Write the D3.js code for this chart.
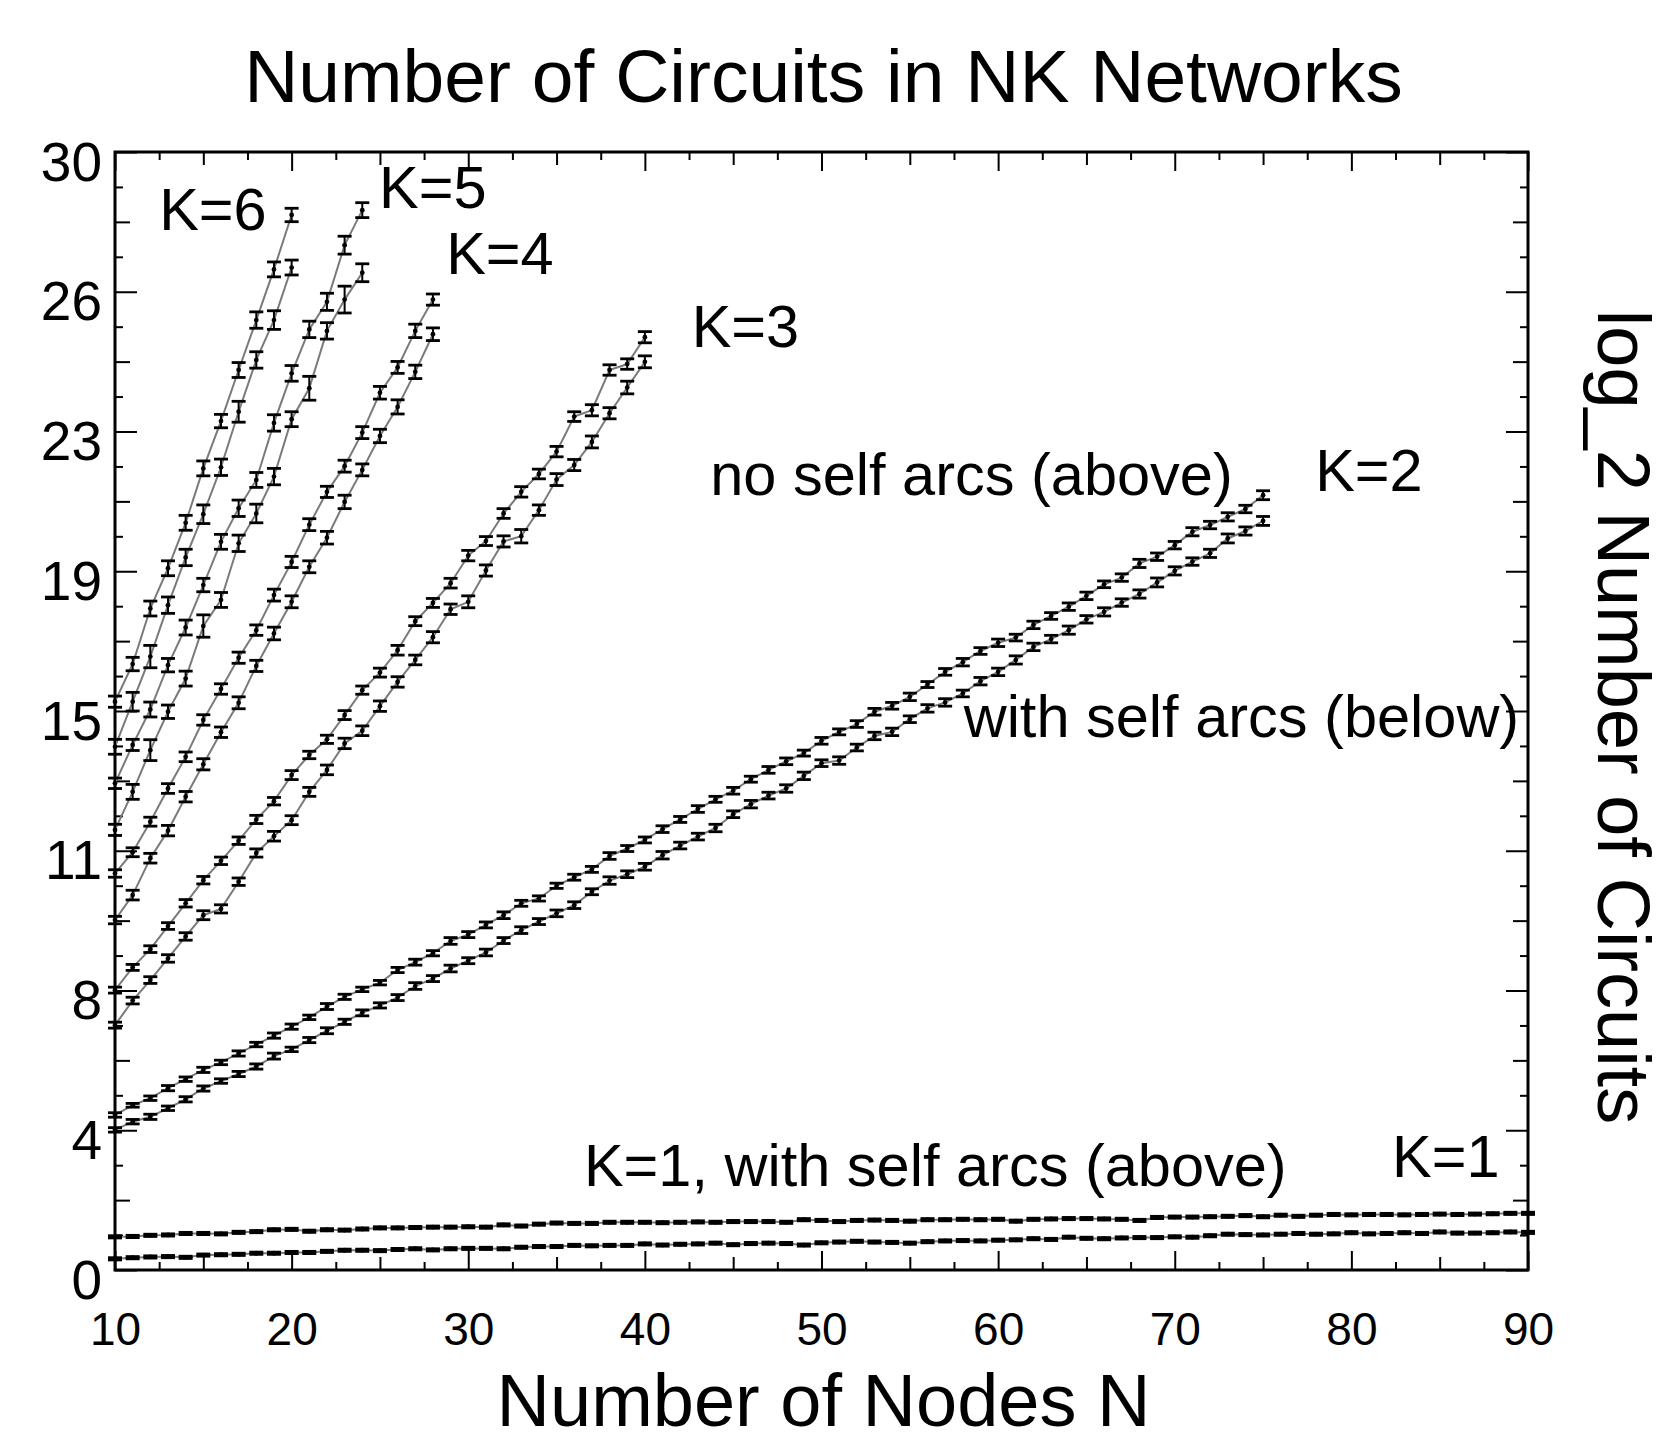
<!DOCTYPE html>
<html>
<head>
<meta charset="utf-8">
<title>Number of Circuits in NK Networks</title>
<script src="https://cdn.jsdelivr.net/npm/d3@7"></script>
<style>
  body { margin: 0; background: #fff; }
  svg { display: block; font-family: "Liberation Sans", Arial, Helvetica, sans-serif; }
</style>
</head>
<body>
<script>
const width = 1667;
const height = 1443;

// ---- data (log2 of number of circuits), index i -> N = first N + i ----
// K=1, N = 10..90
const k1WithSelf = [
  0.89, 0.90, 0.93, 0.94, 0.98, 0.98, 0.97, 1.01, 1.03, 1.08,
  1.09, 1.04, 1.08, 1.07, 1.10, 1.13, 1.13, 1.14, 1.15, 1.15,
  1.16, 1.15, 1.21, 1.18, 1.23, 1.26, 1.25, 1.25, 1.28, 1.28,
  1.28, 1.27, 1.28, 1.29, 1.28, 1.30, 1.30, 1.30, 1.28, 1.35,
  1.33, 1.30, 1.33, 1.34, 1.33, 1.31, 1.35, 1.35, 1.36, 1.35,
  1.36, 1.31, 1.36, 1.37, 1.38, 1.38, 1.37, 1.36, 1.33, 1.41,
  1.42, 1.42, 1.43, 1.44, 1.46, 1.43, 1.47, 1.44, 1.47, 1.49,
  1.48, 1.49, 1.49, 1.48, 1.49, 1.50, 1.49, 1.50, 1.51, 1.52,
  1.52
];
const k1NoSelf = [
  0.30, 0.33, 0.35, 0.36, 0.34, 0.40, 0.41, 0.42, 0.45, 0.45,
  0.47, 0.47, 0.50, 0.53, 0.53, 0.52, 0.55, 0.57, 0.54, 0.57,
  0.58, 0.58, 0.57, 0.61, 0.63, 0.63, 0.66, 0.65, 0.66, 0.66,
  0.70, 0.67, 0.69, 0.70, 0.72, 0.68, 0.71, 0.72, 0.71, 0.67,
  0.73, 0.75, 0.77, 0.75, 0.74, 0.72, 0.76, 0.78, 0.79, 0.78,
  0.80, 0.81, 0.84, 0.82, 0.88, 0.85, 0.84, 0.86, 0.87, 0.87,
  0.89, 0.88, 0.92, 0.96, 0.95, 0.94, 0.96, 0.98, 0.96, 0.97,
  1.00, 0.97, 0.98, 1.00, 0.98, 1.02, 0.99, 0.99, 1.00, 1.02,
  1.01
];
const k1Err = 0.03;

// K=2, N = 10..75
const k2NoSelf = [
  4.16, 4.42, 4.61, 4.88, 5.12, 5.37, 5.57, 5.81, 6.05, 6.29,
  6.53, 6.78, 7.07, 7.33, 7.53, 7.71, 8.05, 8.26, 8.50, 8.83,
  9.00, 9.26, 9.52, 9.84, 9.97, 10.31, 10.54, 10.75, 11.11, 11.31,
  11.54, 11.83, 12.09, 12.37, 12.63, 12.86, 13.17, 13.42, 13.65, 13.87,
  14.20, 14.44, 14.65, 14.98, 15.14, 15.38, 15.71, 16.05, 16.31, 16.61,
  16.83, 16.97, 17.31, 17.55, 17.80, 18.09, 18.40, 18.58, 18.96, 19.14,
  19.45, 19.81, 19.99, 20.21, 20.42, 20.79
];
const k2NoSelfErr = [
  0.06, 0.05, 0.06, 0.07, 0.06, 0.07, 0.06, 0.07, 0.06, 0.07,
  0.07, 0.06, 0.08, 0.07, 0.06, 0.06, 0.07, 0.08, 0.07, 0.09,
  0.08, 0.08, 0.09, 0.08, 0.07, 0.07, 0.08, 0.08, 0.09, 0.08,
  0.08, 0.09, 0.08, 0.09, 0.08, 0.09, 0.08, 0.09, 0.09, 0.08,
  0.09, 0.08, 0.09, 0.09, 0.09, 0.10, 0.08, 0.09, 0.10, 0.09,
  0.10, 0.09, 0.10, 0.09, 0.10, 0.10, 0.09, 0.10, 0.11, 0.10,
  0.10, 0.11, 0.10, 0.11, 0.10, 0.12
];
const k2WithSelf = [
  3.76, 3.98, 4.11, 4.34, 4.58, 4.87, 5.07, 5.26, 5.46, 5.74,
  5.92, 6.17, 6.42, 6.66, 6.90, 7.10, 7.31, 7.62, 7.82, 8.09,
  8.30, 8.52, 8.84, 9.12, 9.35, 9.57, 9.79, 10.15, 10.45, 10.62,
  10.82, 11.13, 11.39, 11.63, 11.86, 12.23, 12.50, 12.73, 12.92, 13.26,
  13.60, 13.67, 14.02, 14.33, 14.44, 14.78, 15.07, 15.23, 15.47, 15.80,
  16.05, 16.37, 16.72, 16.93, 17.17, 17.46, 17.66, 17.91, 18.14, 18.45,
  18.76, 19.01, 19.23, 19.63, 19.83, 20.10
];
const k2WithSelfErr = [
  0.06, 0.06, 0.07, 0.06, 0.07, 0.07, 0.06, 0.07, 0.07, 0.08,
  0.06, 0.07, 0.08, 0.07, 0.08, 0.07, 0.08, 0.09, 0.08, 0.09,
  0.08, 0.09, 0.08, 0.09, 0.08, 0.09, 0.09, 0.08, 0.10, 0.09,
  0.09, 0.10, 0.09, 0.09, 0.10, 0.09, 0.10, 0.09, 0.10, 0.10,
  0.09, 0.10, 0.09, 0.10, 0.10, 0.09, 0.10, 0.10, 0.09, 0.10,
  0.10, 0.11, 0.10, 0.10, 0.11, 0.10, 0.11, 0.10, 0.11, 0.12,
  0.11, 0.10, 0.11, 0.12, 0.11, 0.12
];

// K=3, N = 10..40
const k3NoSelf = [
  7.51, 8.12, 8.61, 9.23, 9.84, 10.46, 10.98, 11.52, 12.09, 12.58,
  13.28, 13.82, 14.24, 14.89, 15.56, 16.03, 16.63, 17.41, 17.90, 18.43,
  19.17, 19.56, 20.30, 20.88, 21.36, 21.96, 22.90, 23.07, 24.15, 24.31,
  25.03
];
const k3NoSelfErr = [
  0.08, 0.08, 0.09, 0.09, 0.10, 0.10, 0.10, 0.10, 0.11, 0.10,
  0.12, 0.10, 0.11, 0.12, 0.11, 0.12, 0.13, 0.12, 0.12, 0.13,
  0.14, 0.12, 0.13, 0.14, 0.13, 0.14, 0.13, 0.15, 0.14, 0.14,
  0.15
];
const k3WithSelf = [
  6.57, 7.23, 7.78, 8.36, 8.95, 9.52, 9.69, 10.42, 11.19, 11.64,
  12.07, 12.83, 13.42, 14.13, 14.47, 15.13, 15.78, 16.37, 16.98, 17.73,
  17.93, 18.77, 19.55, 19.69, 20.39, 21.21, 21.60, 22.22, 22.99, 23.68,
  24.37
];
const k3WithSelfErr = [
  0.08, 0.09, 0.09, 0.10, 0.10, 0.12, 0.11, 0.10, 0.11, 0.13,
  0.12, 0.12, 0.13, 0.14, 0.13, 0.14, 0.14, 0.13, 0.15, 0.14,
  0.16, 0.15, 0.15, 0.18, 0.14, 0.16, 0.15, 0.16, 0.15, 0.17,
  0.16
];

// K=4, N = 10..28
const k4NoSelf = [10.64, 11.21, 12.03, 12.92, 13.77, 14.76, 15.59, 16.43, 17.17, 18.11,
  19.00, 20.00, 20.88, 21.57, 22.47, 23.54, 24.22, 25.20, 26.04];
const k4NoSelfErr = [0.10, 0.12, 0.12, 0.13, 0.13, 0.14, 0.14, 0.15, 0.14, 0.16,
  0.15, 0.16, 0.15, 0.16, 0.16, 0.17, 0.16, 0.18, 0.15];
const k4WithSelf = [9.39, 10.06, 11.05, 11.79, 12.70, 13.57, 14.43, 15.22, 16.21, 17.08,
  17.93, 18.87, 19.65, 20.61, 21.47, 22.38, 23.16, 24.10, 25.11];
const k4WithSelfErr = [0.10, 0.13, 0.13, 0.14, 0.14, 0.15, 0.14, 0.16, 0.15, 0.17,
  0.16, 0.16, 0.17, 0.18, 0.16, 0.18, 0.19, 0.18, 0.17];

// K=5, N = 10..24
const k5NoSelf = [13.06, 14.09, 15.04, 16.23, 17.24, 18.38, 19.54, 20.44, 21.20, 22.73,
  24.06, 25.24, 25.98, 27.50, 28.44];
const k5NoSelfErr = [0.14, 0.15, 0.20, 0.18, 0.20, 0.18, 0.20, 0.22, 0.20, 0.22,
  0.21, 0.22, 0.23, 0.24, 0.20];
const k5WithSelf = [11.81, 12.83, 13.95, 14.98, 15.87, 17.28, 17.98, 19.50, 20.30, 21.29,
  22.83, 23.66, 25.20, 26.04, 26.76];
const k5WithSelfErr = [0.15, 0.20, 0.28, 0.18, 0.20, 0.30, 0.20, 0.22, 0.25, 0.22,
  0.20, 0.32, 0.22, 0.36, 0.24];

// K=6, N = 10..20
const k6NoSelf = [15.25, 16.26, 17.75, 18.83, 20.05, 21.51, 22.78, 24.15, 25.49, 26.85, 28.31];
const k6NoSelfErr = [0.15, 0.18, 0.20, 0.20, 0.20, 0.20, 0.18, 0.20, 0.22, 0.20, 0.18];
const k6WithSelf = [14.04, 15.25, 16.46, 17.84, 19.12, 20.28, 21.54, 23.03, 24.42, 25.49, 26.90];
const k6WithSelfErr = [0.20, 0.25, 0.30, 0.22, 0.22, 0.25, 0.22, 0.28, 0.22, 0.25, 0.20];

// axis ticks and labels
const xTicks = [10, 20, 30, 40, 50, 60, 70, 80, 90];
const yTicks = [0, 3.75, 7.5, 11.25, 15, 18.75, 22.5, 26.25, 30];
const yTickLabels = ["0", "4", "8", "11", "15", "19", "23", "26", "30"];

// text on the plot, placed in data units (N, log2 count)
const notes = [
  {text: "K=6", n: 12.5, v: 27.9},
  {text: "K=5", n: 24.95, v: 28.5},
  {text: "K=4", n: 28.75, v: 26.73},
  {text: "K=3", n: 42.65, v: 24.77},
  {text: "no self arcs (above)", n: 43.7, v: 20.8},
  {text: "K=2", n: 77.95, v: 20.9},
  {text: "with self arcs (below)", n: 58.05, v: 14.3},
  {text: "K=1, with self arcs (above)", n: 36.55, v: 2.25},
  {text: "K=1", n: 82.3, v: 2.5}
];

// table the drawing uses
const series = [
  {n0: 10, v: k1WithSelf, e: k1WithSelf.map(() => k1Err)},
  {n0: 10, v: k1NoSelf, e: k1NoSelf.map(() => k1Err)},
  {n0: 10, v: k2NoSelf, e: k2NoSelfErr},
  {n0: 10, v: k2WithSelf, e: k2WithSelfErr},
  {n0: 10, v: k3NoSelf, e: k3NoSelfErr},
  {n0: 10, v: k3WithSelf, e: k3WithSelfErr},
  {n0: 10, v: k4NoSelf, e: k4NoSelfErr},
  {n0: 10, v: k4WithSelf, e: k4WithSelfErr},
  {n0: 10, v: k5NoSelf, e: k5NoSelfErr},
  {n0: 10, v: k5WithSelf, e: k5WithSelfErr},
  {n0: 10, v: k6NoSelf, e: k6NoSelfErr},
  {n0: 10, v: k6WithSelf, e: k6WithSelfErr}
].map(s => s.v.map((v, i) => ({n: s.n0 + i, v: v, e: s.e[i]})));

// ---- layout ----
const plotLeft = 115, plotRight = 1528, plotTop = 152, plotBottom = 1270;

let x = d3.scaleLinear().domain([10, 90]).range([plotLeft, plotRight]);
let y = d3.scaleLinear().domain([0, 30]).range([plotBottom, plotTop]);

let svg = d3.select("body").append("svg")
    .attr("width", width)
    .attr("height", height);

svg.append("rect")
    .attr("width", width)
    .attr("height", height)
    .attr("fill", "#fff");

// inward ticks on all four sides, three lengths
function ticks(axisFn, values, size, transform) {
    svg.append("g")
        .attr("transform", transform)
        .call(axisFn.tickValues(values).tickSizeInner(-size).tickSizeOuter(0).tickFormat(""))
        .call(g => g.select(".domain").remove())
        .selectAll("line")
        .attr("stroke", "#000")
        .attr("stroke-width", 2);
}

let xMid = d3.range(15, 90, 10);
let xMinor = d3.range(12.5, 90, 5);
let yMid = d3.range(1.875, 30, 3.75);
let yMinor = d3.range(0.9375, 30, 1.875);

[[xTicks, 19], [xMid, 13], [xMinor, 8]].forEach(([vals, len]) => {
    ticks(d3.axisBottom(x), vals, len, `translate(0,${plotBottom})`);
    ticks(d3.axisTop(x), vals, len, `translate(0,${plotTop})`);
});
[[yTicks, 22], [yMid, 15], [yMinor, 8]].forEach(([vals, len]) => {
    ticks(d3.axisLeft(y), vals, len, `translate(${plotLeft},0)`);
    ticks(d3.axisRight(y), vals, len, `translate(${plotRight},0)`);
});

// frame
svg.append("rect")
    .attr("x", plotLeft)
    .attr("y", plotTop)
    .attr("width", plotRight - plotLeft)
    .attr("height", plotBottom - plotTop)
    .attr("fill", "none")
    .attr("stroke", "#000")
    .attr("stroke-width", 3);

// tick labels
svg.append("g")
    .attr("transform", `translate(0,${plotBottom})`)
    .call(d3.axisBottom(x).tickValues(xTicks).tickSize(0).tickFormat(d3.format("d")))
    .call(g => g.select(".domain").remove())
    .selectAll("text")
    .attr("y", 75)
    .attr("dy", 0)
    .attr("fill", "#000")
    .attr("font-family", null)
    .attr("font-size", 46);

svg.append("g")
    .attr("transform", `translate(${plotLeft},0)`)
    .call(d3.axisLeft(y).tickValues(yTicks).tickSize(0).tickFormat((d, i) => yTickLabels[i]))
    .call(g => g.select(".domain").remove())
    .selectAll("text")
    .attr("x", -13)
    .attr("y", 28)
    .attr("dy", 0)
    .attr("fill", "#000")
    .attr("font-family", null)
    .attr("font-size", 55);

// connecting lines
let line = d3.line()
    .x(d => x(d.n))
    .y(d => y(d.v));

svg.append("g")
    .selectAll("path")
    .data(series)
    .join("path")
    .attr("d", line)
    .attr("fill", "none")
    .attr("stroke", "#7a7a7a")
    .attr("stroke-width", 2);

// points with error bars
let capW = 7;
let pts = svg.append("g")
    .selectAll("g")
    .data(series.flat())
    .join("g")
    .attr("stroke", "#000");

pts.append("line")
    .attr("x1", d => x(d.n)).attr("x2", d => x(d.n))
    .attr("y1", d => y(d.v - d.e)).attr("y2", d => y(d.v + d.e))
    .attr("stroke-width", 2);
pts.append("line")
    .attr("x1", d => x(d.n) - capW).attr("x2", d => x(d.n) + capW)
    .attr("y1", d => y(d.v + d.e)).attr("y2", d => y(d.v + d.e))
    .attr("stroke-width", 2.8);
pts.append("line")
    .attr("x1", d => x(d.n) - capW).attr("x2", d => x(d.n) + capW)
    .attr("y1", d => y(d.v - d.e)).attr("y2", d => y(d.v - d.e))
    .attr("stroke-width", 2.8);
pts.append("circle")
    .attr("cx", d => x(d.n))
    .attr("cy", d => y(d.v))
    .attr("r", 2.4)
    .attr("fill", "#000")
    .attr("stroke", "none");

// annotations
svg.append("g")
    .selectAll("text")
    .data(notes)
    .join("text")
    .attr("x", d => x(d.n))
    .attr("y", d => y(d.v))
    .attr("font-size", 59.5)
    .attr("fill", "#000")
    .text(d => d.text);

// titles
svg.append("text")
    .attr("x", (plotLeft + plotRight) / 2 + 2)
    .attr("y", 102)
    .attr("text-anchor", "middle")
    .attr("font-size", 75)
    .text("Number of Circuits in NK Networks");

svg.append("text")
    .attr("x", (plotLeft + plotRight) / 2 + 2)
    .attr("y", 1426)
    .attr("text-anchor", "middle")
    .attr("font-size", 74)
    .text("Number of Nodes N");

svg.append("text")
    .attr("transform", "translate(1598,717) rotate(90)")
    .attr("text-anchor", "middle")
    .attr("font-size", 74)
    .text("log_2 Number of Circuits");
</script>
</body>
</html>
